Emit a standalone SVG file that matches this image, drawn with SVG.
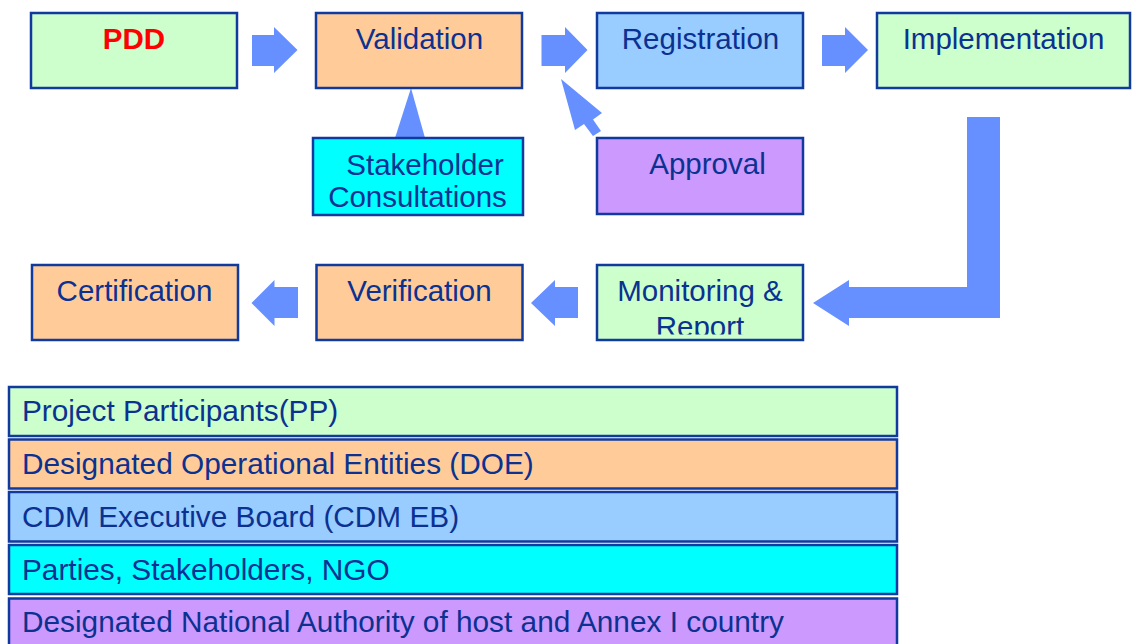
<svg xmlns="http://www.w3.org/2000/svg" width="1133" height="644" viewBox="0 0 1133 644">
<style>
.box{stroke:#103a9e;stroke-width:2.5}
.g{fill:#ccffcc}.o{fill:#ffcc99}.b{fill:#99ccff}.c{fill:#00ffff}.p{fill:#cc99ff}
.t{font-family:"Liberation Sans",Arial,sans-serif;font-size:29.5px;fill:#0b3191}
.l{font-size:29.8px}
.m{text-anchor:middle}
.arr{fill:#6690ff}
</style>
<defs>
<clipPath id="monClip"><rect x="597" y="265" width="206" height="69.5"/></clipPath>
</defs>
<rect width="1133" height="644" fill="#ffffff"/>
<g id="connectors">
<polygon class="arr" points="252,35 274,35 274,27 297.5,50 274,73 274,66 252,66"/>
<polygon class="arr" points="541.5,35 565,35 565,27 587.5,50 565,73 565,66 541.5,66"/>
<polygon class="arr" points="822,35 845,35 845,27 868,50 845,73 845,66 822,66"/>
<polygon class="arr" points="411,88 425,138 395,138"/>
<polygon class="arr" points="561,79 602,113 593,119.5 601,131 593,136 584,124 575,130"/>
<polygon class="arr" points="967,117 1000,117 1000,318 849,318 849,326 813,303 849,280 849,287 967,287"/>
<polygon class="arr" points="578,287 555,287 555,280 531,303 555,326 555,318 578,318"/>
<polygon class="arr" points="298,287 274.5,287 274.5,280 251.5,303 274.5,326 274.5,318 298,318"/>
</g>
<g id="pdd"><rect class="box g" x="31" y="13" width="206" height="75"/><text class="m" x="134" y="49" style="font-family:'Liberation Sans',Arial,sans-serif;font-size:29.5px;font-weight:bold;fill:#ff0000">PDD</text></g>
<g id="validation"><rect class="box o" x="316" y="13" width="206" height="75"/><text class="t m" x="419.5" y="49">Validation</text></g>
<g id="registration"><rect class="box b" x="597" y="13" width="206" height="75"/><text class="t m" x="700.5" y="49">Registration</text></g>
<g id="implementation"><rect class="box g" x="877" y="13" width="253" height="75"/><text class="t m" x="1003.5" y="49">Implementation</text></g>
<g id="stakeholder"><rect class="box c" x="313" y="138" width="210" height="77"/><text class="t m" x="425" y="175">Stakeholder</text><text class="t m" x="417.5" y="207">Consultations</text></g>
<g id="approval"><rect class="box p" x="597" y="138" width="206" height="76"/><text class="t m" x="707.5" y="174">Approval</text></g>
<g id="certification"><rect class="box o" x="32" y="265" width="206" height="75"/><text class="t m" x="134.5" y="301">Certification</text></g>
<g id="verification"><rect class="box o" x="316.5" y="265" width="206" height="75"/><text class="t m" x="419.5" y="301">Verification</text></g>
<g id="monitoring"><rect class="box g" x="597" y="265" width="206" height="75"/><text class="t m" x="700" y="301">Monitoring &amp;</text><text class="t m" x="700" y="337" clip-path="url(#monClip)">Report</text></g>
<g id="legend-pp"><rect class="box g" x="9" y="387" width="888" height="49"/><text class="t l" x="22" y="421">Project Participants(PP)</text></g>
<g id="legend-doe"><rect class="box o" x="9" y="439.5" width="888" height="49"/><text class="t l" x="22" y="474">Designated Operational Entities (DOE)</text></g>
<g id="legend-eb"><rect class="box b" x="9" y="492" width="888" height="49.5"/><text class="t l" x="22" y="527">CDM Executive Board (CDM EB)</text></g>
<g id="legend-parties"><rect class="box c" x="9" y="545" width="888" height="49"/><text class="t l" x="22" y="579.5">Parties, Stakeholders, NGO</text></g>
<g id="legend-dna"><rect class="box p" x="9" y="598.5" width="888" height="60"/><text class="t l" x="22" y="632">Designated National Authority of host and Annex I country</text></g>
</svg>
